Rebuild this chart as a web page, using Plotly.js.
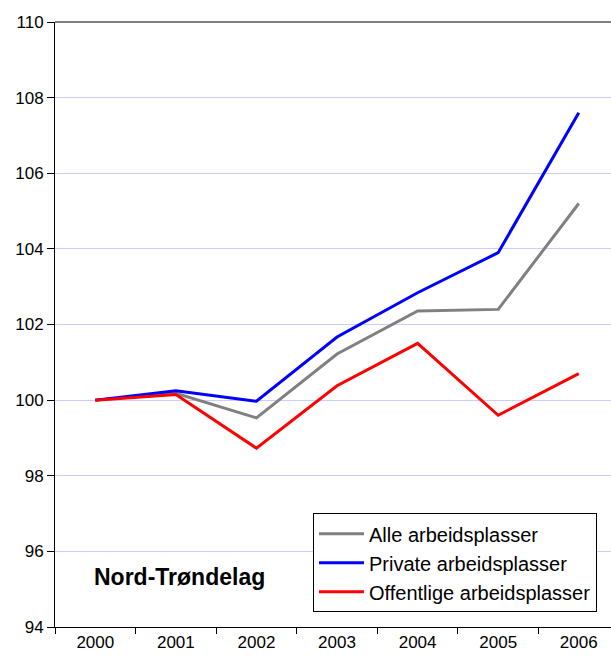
<!DOCTYPE html>
<html>
<head>
<meta charset="utf-8">
<script src="https://cdn.plot.ly/plotly-3.0.1.min.js"></script>
<style>html,body{margin:0;padding:0;background:#fff;}#chart{width:611px;height:659px;}</style>
</head>
<body>
<div id="chart"></div>
<script>
const years = ["2000", "2001", "2002", "2003", "2004", "2005", "2006"];
const alle = [100, 100.18, 99.53, 101.22, 102.36, 102.4, 105.2];
const privat = [100, 100.25, 99.97, 101.67, 102.84, 103.9, 107.6];
const offentlig = [100, 100.15, 98.73, 100.38, 101.5, 99.6, 100.7];
const seriesNames = ["Alle arbeidsplasser", "Private arbeidsplasser", "Offentlige arbeidsplasser"];
const yTicks = [94, 96, 98, 100, 102, 104, 106, 108, 110];
const regionLabel = "Nord-Trøndelag";

const font = "Arial, 'Liberation Sans', sans-serif";
function tr(y, name, color, g) {
  return {x: years, y: y, name: name, type: "scatter", mode: "lines",
    line: {color: color, width: 3}, legendgroup: g};
}
const data = [
  tr(alle, seriesNames[0], "#808080", "a"),
  tr(privat, seriesNames[1], "#0000ff", "b"),
  tr(offentlig, seriesNames[2], "#ff0000", "c")
];
const layout = {
  width: 611, height: 659,
  margin: {l: 55, r: 0, t: 22, b: 32, autoexpand: false},
  paper_bgcolor: "#fff", plot_bgcolor: "#fff",
  font: {family: font, color: "#000"},
  showlegend: true,
  legend: {x: 0.464, y: 0.188, xanchor: "left", yanchor: "top",
    bgcolor: "#fff", bordercolor: "#000", borderwidth: 1,
    font: {family: font, size: 20, color: "#000"},
    traceorder: "grouped", tracegroupgap: 0, itemwidth: 45},
  xaxis: {type: "category", range: [-0.5, 6.4], tickson: "boundaries",
    ticks: "outside", ticklen: 6, tickcolor: "#000", tickwidth: 1,
    showline: true, linecolor: "#000", linewidth: 1, showgrid: false, zeroline: false,
    tickfont: {family: font, size: 17}, fixedrange: true},
  yaxis: {range: [94, 110], tickvals: yTicks, ticktext: yTicks.map(String),
    ticks: "outside", ticklen: 7, tickcolor: "#000", tickwidth: 1,
    showline: true, linecolor: "#000", linewidth: 1,
    showgrid: true, gridcolor: "#ccccff", gridwidth: 1, zeroline: false,
    tickfont: {family: font, size: 17}, fixedrange: true},
  shapes: [{type: "line", xref: "paper", yref: "paper", x0: 0, x1: 1, y0: 1, y1: 1,
    line: {color: "#808080", width: 2}}],
  annotations: [{text: "<b>" + regionLabel + "</b>", xref: "paper", yref: "paper",
    x: 0.0665, y: 0.083, xanchor: "left", yanchor: "middle", showarrow: false,
    font: {family: font, size: 23, color: "#000"}}]
};
Plotly.newPlot("chart", data, layout, {displayModeBar: false, staticPlot: true});
</script>
</body>
</html>
